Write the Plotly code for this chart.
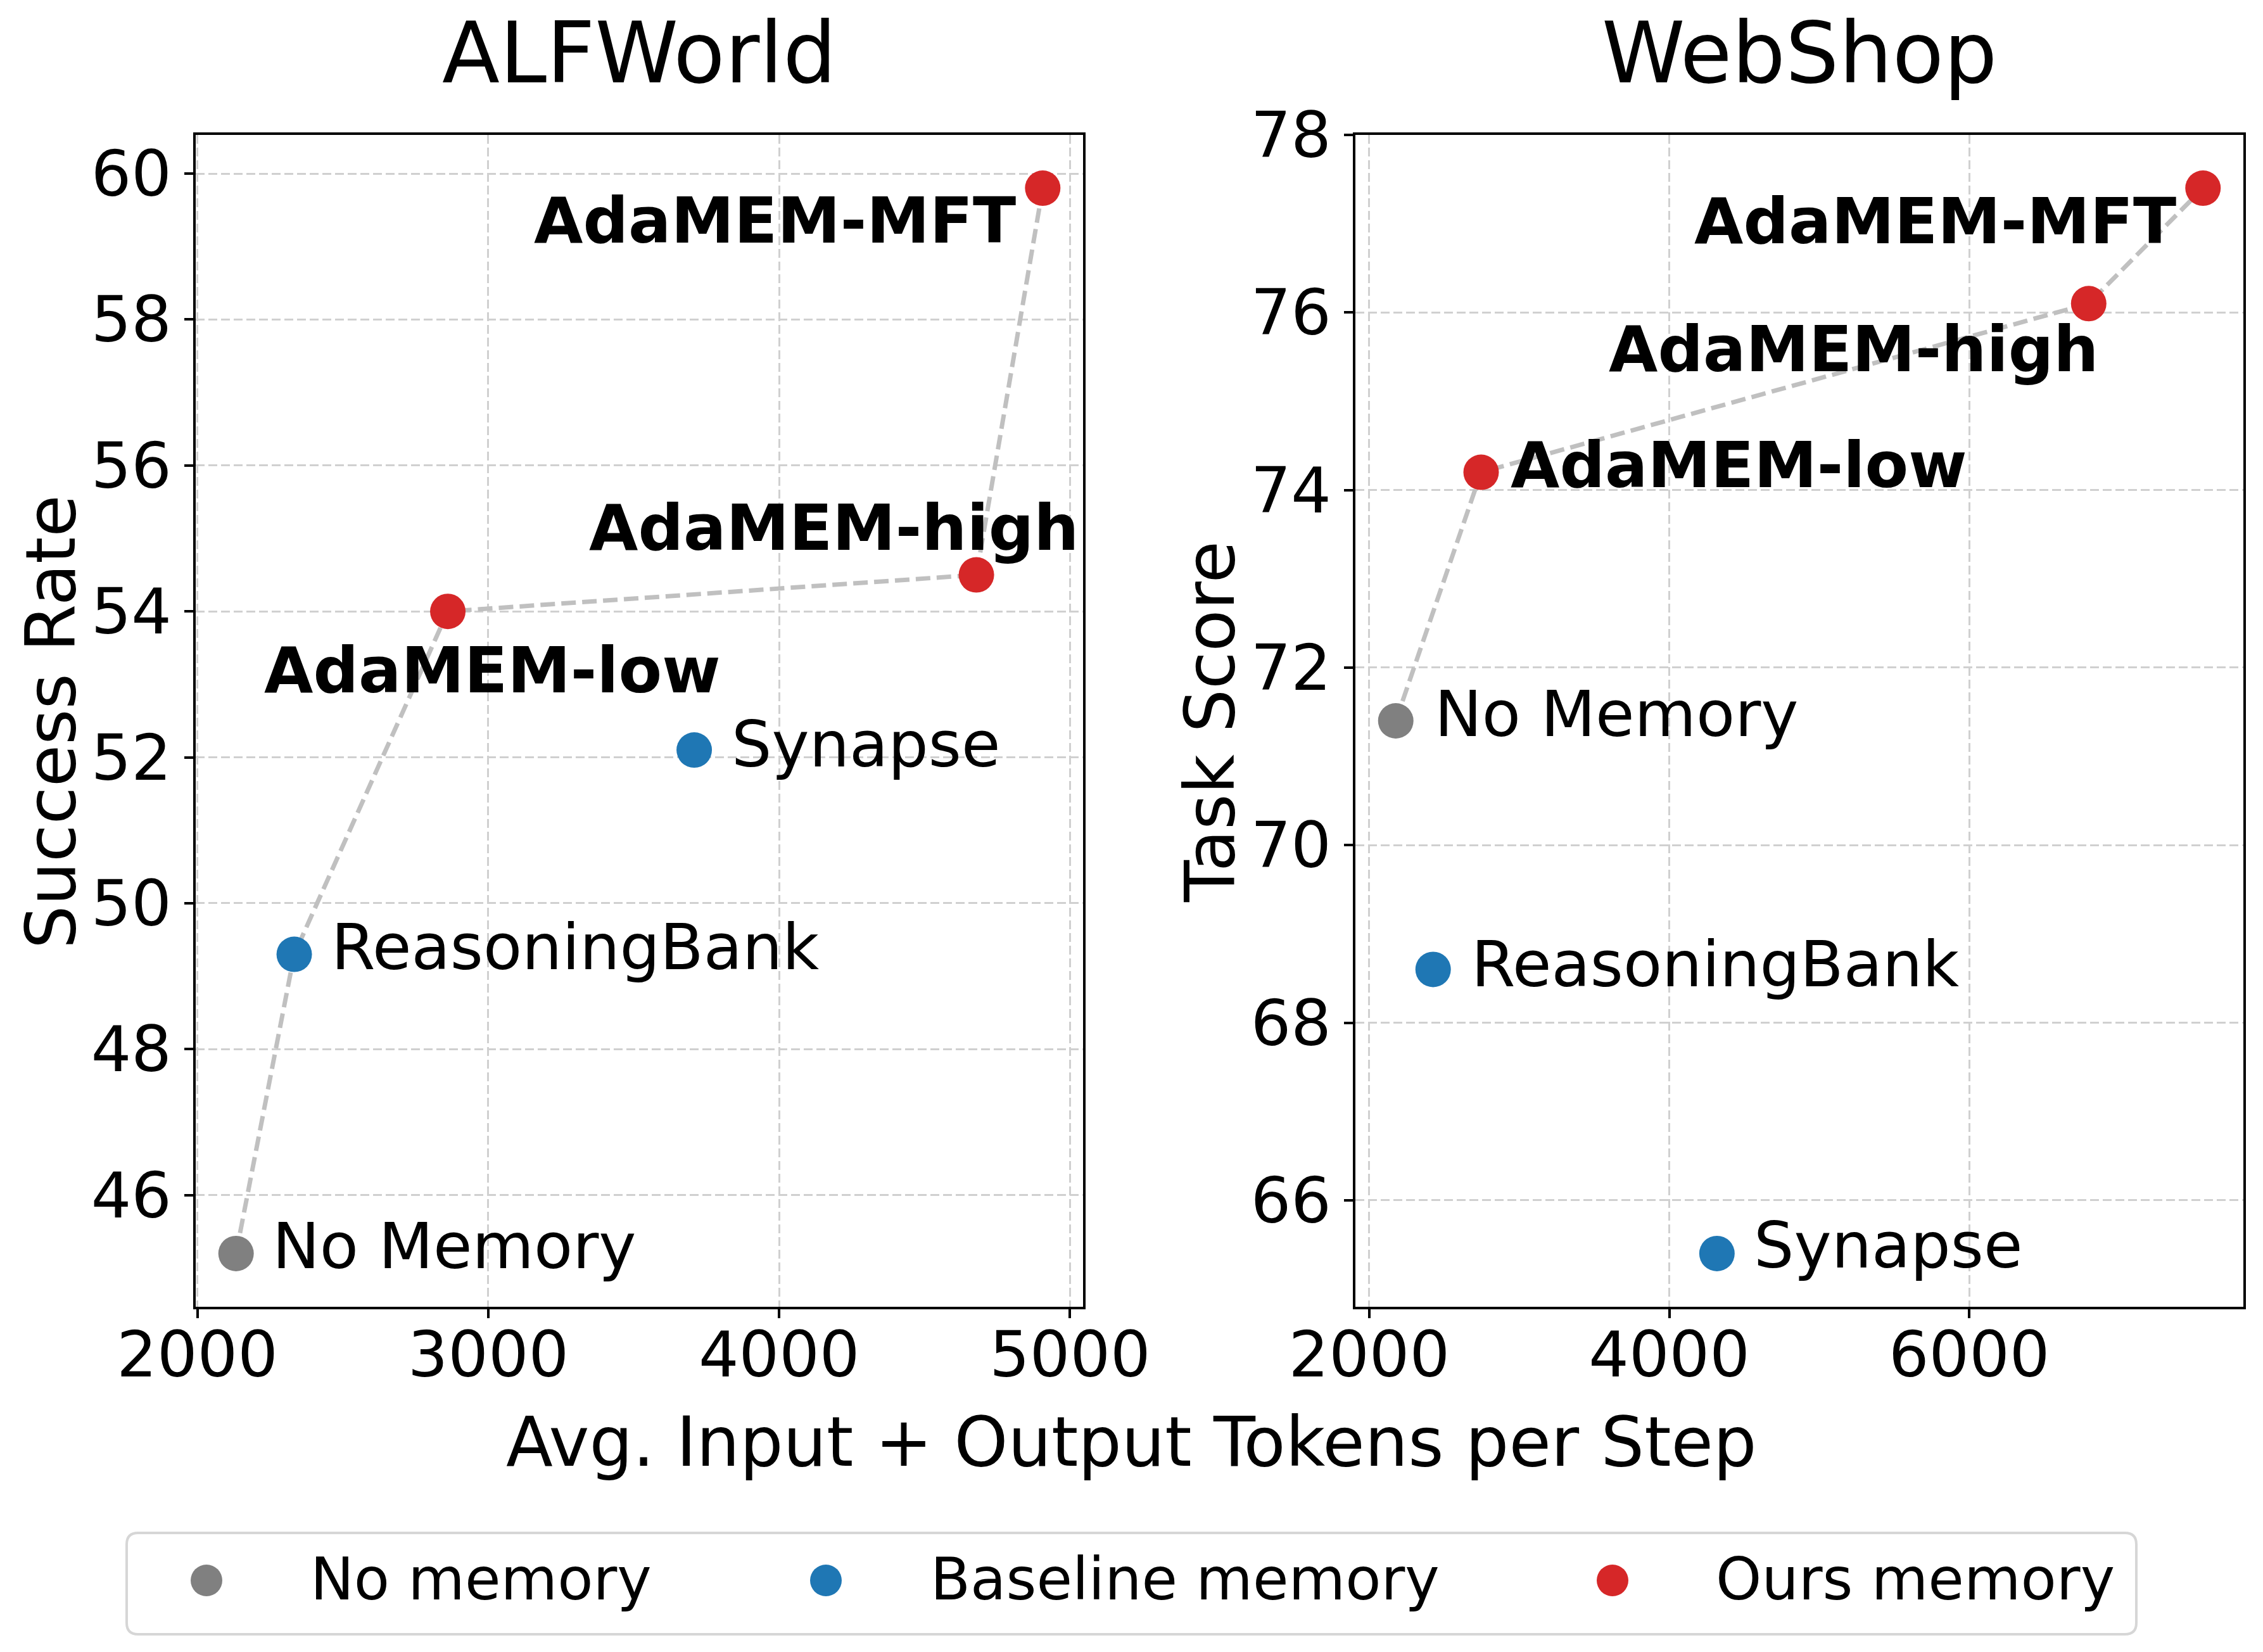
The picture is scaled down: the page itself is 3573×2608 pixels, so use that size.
import plotly.graph_objects as go

W, H = 3573, 2608
FONT = "DejaVu Sans"

# ---------------- data ----------------
methods = ["No Memory", "ReasoningBank", "Synapse", "AdaMEM-low", "AdaMEM-high", "AdaMEM-MFT"]
method_group = ["No memory", "Baseline memory", "Baseline memory",
                "Ours memory", "Ours memory", "Ours memory"]

alf_tokens = [2133, 2333, 3708, 2861, 4678, 4906]
alf_success = [45.2, 49.3, 52.1, 54.0, 54.5, 59.8]
alf_frontier = ["No Memory", "ReasoningBank", "AdaMEM-low", "AdaMEM-high", "AdaMEM-MFT"]

web_tokens = [2177, 2426, 4318, 2746, 6796, 7558]
web_score = [71.4, 68.6, 65.4, 74.2, 76.1, 77.4]
web_frontier = ["No Memory", "AdaMEM-low", "AdaMEM-high", "AdaMEM-MFT"]

group_names = ["No memory", "Baseline memory", "Ours memory"]
bold_methods = ["AdaMEM-low", "AdaMEM-high", "AdaMEM-MFT"]

panel_titles = ["ALFWorld", "WebShop"]
y_titles = ["Success Rate", "Task Score"]
x_title = "Avg. Input + Output Tokens per Step"

# ---------------- style ----------------
group_colors = {"No memory": "#808080", "Baseline memory": "#1f77b4", "Ours memory": "#d62728"}

# label placement per panel: method -> (xanchor, xshift px, yshift px)
alf_label_pos = {
    "No Memory": ("left", 57, 11),
    "ReasoningBank": ("left", 58, 11),
    "Synapse": ("left", 59, 9),
    "AdaMEM-low": ("left", -290, -93),
    "AdaMEM-high": ("right", 162, 74),
    "AdaMEM-MFT": ("right", -42, -51),
}
web_label_pos = {
    "No Memory": ("left", 61, 11),
    "ReasoningBank": ("left", 60, 8),
    "Synapse": ("left", 58, 12),
    "AdaMEM-low": ("left", 46, 11),
    "AdaMEM-high": ("right", 16, -72),
    "AdaMEM-MFT": ("right", -42, -52),
}

def pxx(px):
    return px / W

def pxy(py):
    return 1 - py / H

def padded(vals):
    lo, hi = min(vals), max(vals)
    m = (hi - lo) * 0.05
    return [lo - m, hi + m]

fig = go.Figure()

panels = [
    dict(x=alf_tokens, y=alf_success, frontier=alf_frontier, xa="x", ya="y", pos=alf_label_pos),
    dict(x=web_tokens, y=web_score, frontier=web_frontier, xa="x2", ya="y2", pos=web_label_pos),
]

annotations = []
for p in panels:
    fx = [p["x"][methods.index(m)] for m in p["frontier"]]
    fy = [p["y"][methods.index(m)] for m in p["frontier"]]
    fig.add_trace(go.Scatter(
        x=fx, y=fy, mode="lines", xaxis=p["xa"], yaxis=p["ya"],
        line=dict(color="#c0c0c0", width=7, dash="23px,10px"),
        showlegend=False, hoverinfo="skip"))
    for g in group_names:
        idx = [i for i, mg in enumerate(method_group) if mg == g]
        fig.add_trace(go.Scatter(
            x=[p["x"][i] for i in idx], y=[p["y"][i] for i in idx],
            text=[methods[i] for i in idx],
            mode="markers", name=g, legendgroup=g, showlegend=False,
            xaxis=p["xa"], yaxis=p["ya"],
            marker=dict(color=group_colors[g], size=56, line=dict(width=0))))
    for i, m in enumerate(methods):
        xa_, xs, ys = p["pos"][m]
        annotations.append(dict(
            x=p["x"][i], y=p["y"][i], xref=p["xa"], yref=p["ya"],
            text=m, showarrow=False, xanchor=xa_, yanchor="middle",
            xshift=xs, yshift=ys, borderpad=0, borderwidth=0,
            font=dict(family=FONT, size=100, color="black",
                      weight="bold" if m in bold_methods else "normal")))

# panel titles
for t, cx in zip(panel_titles, [1009.5, 2841]):
    annotations.append(dict(x=pxx(cx), y=pxy(84), xref="paper", yref="paper",
                            text=t, showarrow=False, xanchor="center", yanchor="middle",
                            borderpad=0, borderwidth=0,
                            font=dict(family=FONT, size=133, color="black")))
# y titles
for t, cx in zip(y_titles, [80, 1910]):
    annotations.append(dict(x=pxx(cx), y=pxy(1140), xref="paper", yref="paper",
                            text=t, showarrow=False, xanchor="center", yanchor="middle",
                            textangle=-90, borderpad=0, borderwidth=0,
                            font=dict(family=FONT, size=108, color="black")))
# x title
annotations.append(dict(x=pxx(1786), y=pxy(2276), xref="paper", yref="paper",
                        text=x_title, showarrow=False, xanchor="center", yanchor="middle",
                        borderpad=0, borderwidth=0,
                        font=dict(family=FONT, size=108, color="black")))

# legend (drawn manually to match large markers)
shapes = []
lx0, lx1, ly0, ly1, r = 200, 3373, 2420, 2580, 18
rx, ry = r / W, r / H
X0, X1, Y0, Y1 = pxx(lx0), pxx(lx1), pxy(ly1), pxy(ly0)
path = (f"M {X0+rx},{Y0} L {X1-rx},{Y0} Q {X1},{Y0} {X1},{Y0+ry} "
        f"L {X1},{Y1-ry} Q {X1},{Y1} {X1-rx},{Y1} L {X0+rx},{Y1} "
        f"Q {X0},{Y1} {X0},{Y1-ry} L {X0},{Y0+ry} Q {X0},{Y0} {X0+rx},{Y0} Z")
shapes.append(dict(type="path", xref="paper", yref="paper", path=path,
                   line=dict(color="#d6d6d6", width=4), fillcolor="white", layer="below"))
leg_cy = 2495
leg_marker_x = [326, 1304, 2546]
leg_text_x = [490, 1469, 2709]
leg_d = 50
for g, mx, tx in zip(group_names, leg_marker_x, leg_text_x):
    shapes.append(dict(type="circle", xref="paper", yref="paper",
                       x0=pxx(mx - leg_d / 2), x1=pxx(mx + leg_d / 2),
                       y0=pxy(leg_cy + leg_d / 2), y1=pxy(leg_cy - leg_d / 2),
                       fillcolor=group_colors[g], line=dict(width=0)))
    annotations.append(dict(x=pxx(tx), y=pxy(leg_cy - 2), xref="paper", yref="paper",
                            text=g, showarrow=False, xanchor="left", yanchor="middle",
                            borderpad=0, borderwidth=0,
                            font=dict(family=FONT, size=92, color="black")))

axis_common = dict(
    showline=True, linecolor="black", linewidth=4, mirror=True,
    ticks="outside", ticklen=14, tickwidth=4, tickcolor="black",
    showgrid=True, gridcolor="#d0d0d0", gridwidth=3, griddash="14px,6px",
    zeroline=False, automargin=False,
    tickfont=dict(family=FONT, size=100, color="black"),
)

fig.update_layout(
    template="none",
    width=W, height=H, margin=dict(l=0, r=0, t=0, b=0, pad=0, autoexpand=False),
    paper_bgcolor="white", plot_bgcolor="white",
    font=dict(family=FONT, color="black"),
    showlegend=False,
    xaxis=dict(domain=[pxx(309), pxx(1710)], range=padded(alf_tokens),
               tick0=0, dtick=1000, anchor="y", ticklabelstandoff=-28, **axis_common),
    yaxis=dict(domain=[pxy(2063), pxy(213)], range=padded(alf_success),
               tick0=0, dtick=2, anchor="x", **axis_common),
    xaxis2=dict(domain=[pxx(2140), pxx(3542)], range=padded(web_tokens),
                tick0=0, dtick=2000, anchor="y2", ticklabelstandoff=-28, **axis_common),
    yaxis2=dict(domain=[pxy(2063), pxy(213)], range=padded(web_score),
                tick0=0, dtick=2, anchor="x2", **axis_common),
    annotations=annotations,
    shapes=shapes,
)

fig.write_html("out.html", config={"displayModeBar": False},
               post_script="document.body.style.margin='0';document.body.style.overflow='hidden';")
